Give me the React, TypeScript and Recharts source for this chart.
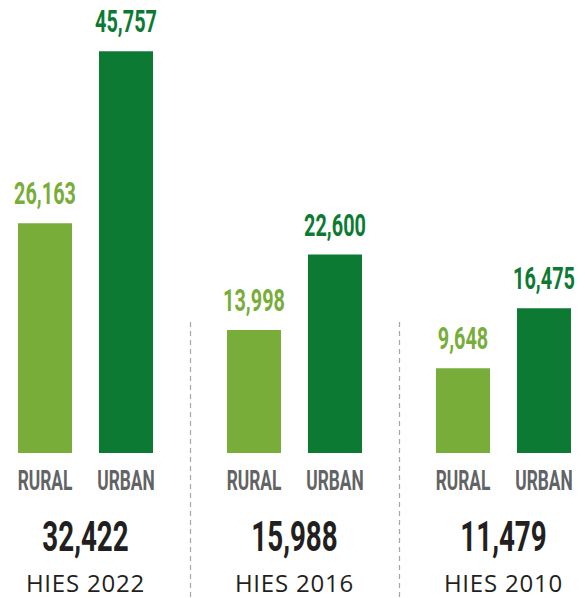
import React from "react";
import { BarChart, Bar, XAxis, YAxis, LabelList } from "recharts";

const surveys = ["HIES 2022", "HIES 2016", "HIES 2010"];
const ruralValues = [26163, 13998, 9648];
const urbanValues = [45757, 22600, 16475];
const totalValues = [32422, 15988, 11479];
const seriesNames = ["RURAL", "URBAN"];

const RURAL_COLOR = "#78ad3a";
const URBAN_COLOR = "#0d7a34";
const CAT_COLOR = "#626365";
const DARK = "#231f20";

const data = surveys.map((s, i) => ({
  survey: s,
  rural: ruralValues[i],
  urban: urbanValues[i],
  total: totalValues[i],
}));

const fmt = (v: number) => Number(v).toLocaleString("en-US");

const makeValueLabel = (color: string) => (props: any) => {
  const { x, y, width, value } = props;
  const cx = x + width / 2;
  return (
    <text
      transform={`translate(${cx},${y - 19}) scale(0.62,1)`}
      textAnchor="middle"
      fill={color}
      fontFamily="Roboto, 'DejaVu Sans', sans-serif"
      fontWeight={700}
      fontSize={32}
    >
      {fmt(value)}
    </text>
  );
};

const makeCatLabel = (name: string) => (props: any) => {
  const { x, y, width, height } = props;
  const cx = x + width / 2;
  const base = y + height;
  return (
    <text
      transform={`translate(${cx},${base + 37}) scale(0.62,1)`}
      textAnchor="middle"
      fill={CAT_COLOR}
      fontFamily="Roboto, 'DejaVu Sans', sans-serif"
      fontWeight={700}
      fontSize={28}
    >
      {name}
    </text>
  );
};

const GroupTick = (props: any) => {
  const { x, y, payload, width, visibleTicksCount } = props;
  const idx = payload.index ?? surveys.indexOf(payload.value);
  const band = width / (visibleTicksCount || surveys.length);
  const sepX = Math.round(x - band / 2) + 0.5;
  return (
    <g>
      {idx > 0 && (
        <line
          x1={sepX}
          x2={sepX}
          y1={y - 131}
          y2={y + 150}
          stroke="#a6a6a6"
          strokeWidth={1.2}
          strokeDasharray="5 4"
        />
      )}
      <text
        transform={`translate(${x},${y + 98}) scale(0.66,1)`}
        textAnchor="middle"
        fill={DARK}
        fontFamily="Roboto, 'DejaVu Sans', sans-serif"
        fontWeight={700}
        fontSize={42}
      >
        {fmt(totalValues[idx])}
      </text>
      <text
        x={x}
        y={y + 139}
        textAnchor="middle"
        fill={DARK}
        fontFamily="'Open Sans', 'Noto Sans', sans-serif"
        fontWeight={400}
        fontSize={24}
        letterSpacing={0.8}
      >
        {payload.value}
      </text>
    </g>
  );
};

export default function App() {
  return (
    <div
      style={{
        position: "absolute",
        left: 0,
        top: 0,
        width: 585,
        height: 598,
        overflow: "hidden",
        background: "#ffffff",
      }}
    >
      <div style={{ position: "absolute", left: -19, top: 0 }}>
        <BarChart
          width={627}
          height={598}
          data={data}
          margin={{ top: 14, right: 0, left: 0, bottom: 0 }}
          barSize={54}
          barGap={27}
          barCategoryGap={37}
        >
          <XAxis
            dataKey="survey"
            height={145}
            axisLine={false}
            tickLine={false}
            tickSize={0}
            tickMargin={0}
            interval={0}
            tick={<GroupTick />}
          />
          <YAxis hide domain={[0, 50000]} />
          <Bar dataKey="rural" fill={RURAL_COLOR} isAnimationActive={false}>
            <LabelList dataKey="rural" content={makeValueLabel(RURAL_COLOR)} />
            <LabelList dataKey="rural" content={makeCatLabel(seriesNames[0])} />
          </Bar>
          <Bar dataKey="urban" fill={URBAN_COLOR} isAnimationActive={false}>
            <LabelList dataKey="urban" content={makeValueLabel(URBAN_COLOR)} />
            <LabelList dataKey="urban" content={makeCatLabel(seriesNames[1])} />
          </Bar>
        </BarChart>
      </div>
    </div>
  );
}
